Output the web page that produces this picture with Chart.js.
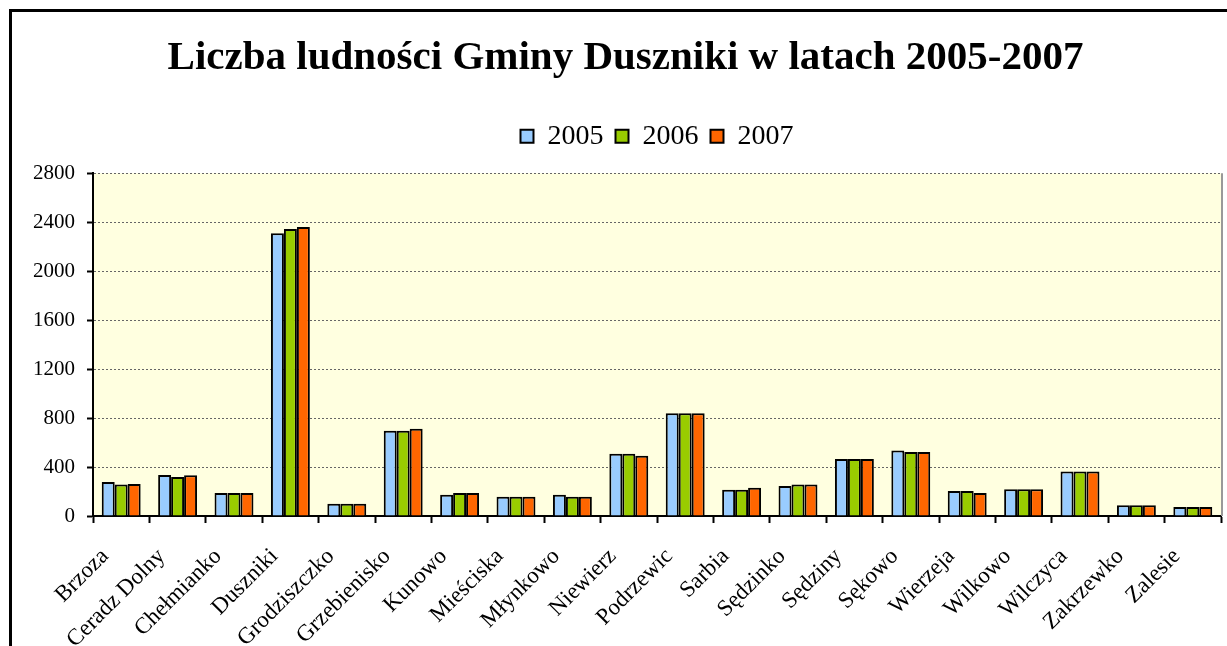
<!DOCTYPE html>
<html>
<head>
<meta charset="utf-8">
<title>Liczba ludności Gminy Duszniki</title>
<script src="https://cdn.jsdelivr.net/npm/chart.js@4/dist/chart.umd.min.js"></script>
<style>
  html, body { margin: 0; padding: 0; background: #fff; }
  #wrap { width: 1227px; height: 646px; }
</style>
</head>
<body>
<div id="wrap"><canvas id="chart" width="1227" height="646"></canvas></div>
<script>
// Data
const villages = ['Brzoza', 'Ceradz Dolny', 'Chełmianko', 'Duszniki', 'Grodziszczko',
    'Grzebienisko', 'Kunowo', 'Mieściska', 'Młynkowo', 'Niewierz', 'Podrzewic', 'Sarbia',
    'Sędzinko', 'Sędziny', 'Sękowo', 'Wierzeja', 'Wilkowo', 'Wilczyca', 'Zakrzewko', 'Zalesie'];
const years = ['2005', '2006', '2007'];
const pop2005 = [277, 335, 188, 2310, 101, 696, 174, 158, 174, 509, 840, 215, 245, 465, 536, 204, 218, 364, 87, 73];
const pop2006 = [258, 318, 188, 2345, 101, 696, 188, 158, 158, 509, 840, 215, 258, 465, 522, 204, 218, 364, 87, 73];
const pop2007 = [261, 332, 188, 2360, 101, 713, 188, 158, 158, 492, 840, 231, 258, 465, 522, 188, 218, 364, 87, 73];
const yTicks = [0, 400, 800, 1200, 1600, 2000, 2400, 2800];

const colors = ['#99CCFF', '#99CC00', '#FF6600'];
const SERIF = "'Liberation Serif', 'Times New Roman', serif";
const LEGEND_GAP = 13; // extra room under the legend

/**
 * Plot background, plot border and the outer frame of the picture
 */
const framePlugin = {
    id: 'frame',
    beforeLayout(chart) {
        // leave some space between the legend and the plot area
        const legend = chart.legend;
        if (legend && !legend._gapPatched) {
            const fit = legend.fit.bind(legend);
            legend.fit = function () {
                fit();
                this.height += LEGEND_GAP;
            };
            legend._gapPatched = true;
        }
    },
    beforeDraw(chart) {
        const { ctx, chartArea: a } = chart;
        ctx.save();
        ctx.fillStyle = '#FFFFE0';
        ctx.fillRect(a.left, a.top, a.right - a.left, a.bottom - a.top);
        ctx.restore();
    },
    afterDraw(chart) {
        const { ctx, chartArea: a } = chart;
        ctx.save();
        // right edge of the plot area
        ctx.strokeStyle = '#999';
        ctx.lineWidth = 2;
        ctx.beginPath();
        ctx.moveTo(a.right + 1, a.top);
        ctx.lineTo(a.right + 1, a.bottom);
        ctx.stroke();
        // outer frame (left and top)
        ctx.strokeStyle = '#000';
        ctx.lineWidth = 3;
        ctx.beginPath();
        ctx.moveTo(10.5, chart.height);
        ctx.lineTo(10.5, 10.5);
        ctx.lineTo(chart.width, 10.5);
        ctx.stroke();
        ctx.restore();
    }
};

const datasets = [pop2005, pop2006, pop2007].map((values, i) => ({
    label: years[i],
    data: values,
    backgroundColor: colors[i],
    borderColor: '#000',
    borderWidth: 2,
    categoryPercentage: 0.69,
    barPercentage: 1.0
}));

new Chart(document.getElementById('chart'), {
    type: 'bar',
    data: { labels: villages, datasets: datasets },
    plugins: [framePlugin],
    options: {
        responsive: false,
        animation: false,
        devicePixelRatio: 1,
        layout: { padding: { left: 30, right: 6, top: 25, bottom: 0 } },
        plugins: {
            title: {
                display: true,
                text: 'Liczba ludności Gminy Duszniki w latach 2005-2007',
                color: '#000',
                font: { family: SERIF, size: 41, weight: 'bold' },
                padding: { top: 9, bottom: 27 }
            },
            legend: {
                position: 'top',
                fullSize: false,
                labels: {
                    color: '#000',
                    boxWidth: 13,
                    boxHeight: 13,
                    padding: 12,
                    font: { family: SERIF, size: 28 }
                }
            },
            tooltip: { enabled: false }
        },
        scales: {
            x: {
                offset: true,
                grid: {
                    offset: true,
                    drawOnChartArea: false,
                    drawTicks: true,
                    tickLength: 7,
                    tickColor: '#000',
                    tickWidth: 2
                },
                border: { display: true, color: '#000', width: 2 },
                ticks: {
                    color: '#000',
                    minRotation: 45,
                    maxRotation: 45,
                    autoSkip: false,
                    padding: 20,
                    labelOffset: -16,
                    font: { family: SERIF, size: 23 }
                },
                afterFit(scale) {
                    scale.height = 130;
                    scale.paddingLeft = 0;
                    scale.paddingRight = 0;
                }
            },
            y: {
                min: 0,
                max: 2800,
                afterBuildTicks(scale) { scale.ticks = yTicks.map(v => ({ value: v })); },
                grid: {
                    color: '#666',
                    lineWidth: 1,
                    drawTicks: true,
                    tickLength: 6,
                    tickColor: '#000',
                    tickWidth: 2
                },
                border: { display: true, color: '#000', width: 2, dash: [2, 2] },
                ticks: {
                    color: '#000',
                    padding: 12,
                    font: { family: SERIF, size: 21 },
                    callback: value => String(value)
                },
                afterFit(scale) { scale.width = 63; }
            }
        }
    }
});
</script>
</body>
</html>
